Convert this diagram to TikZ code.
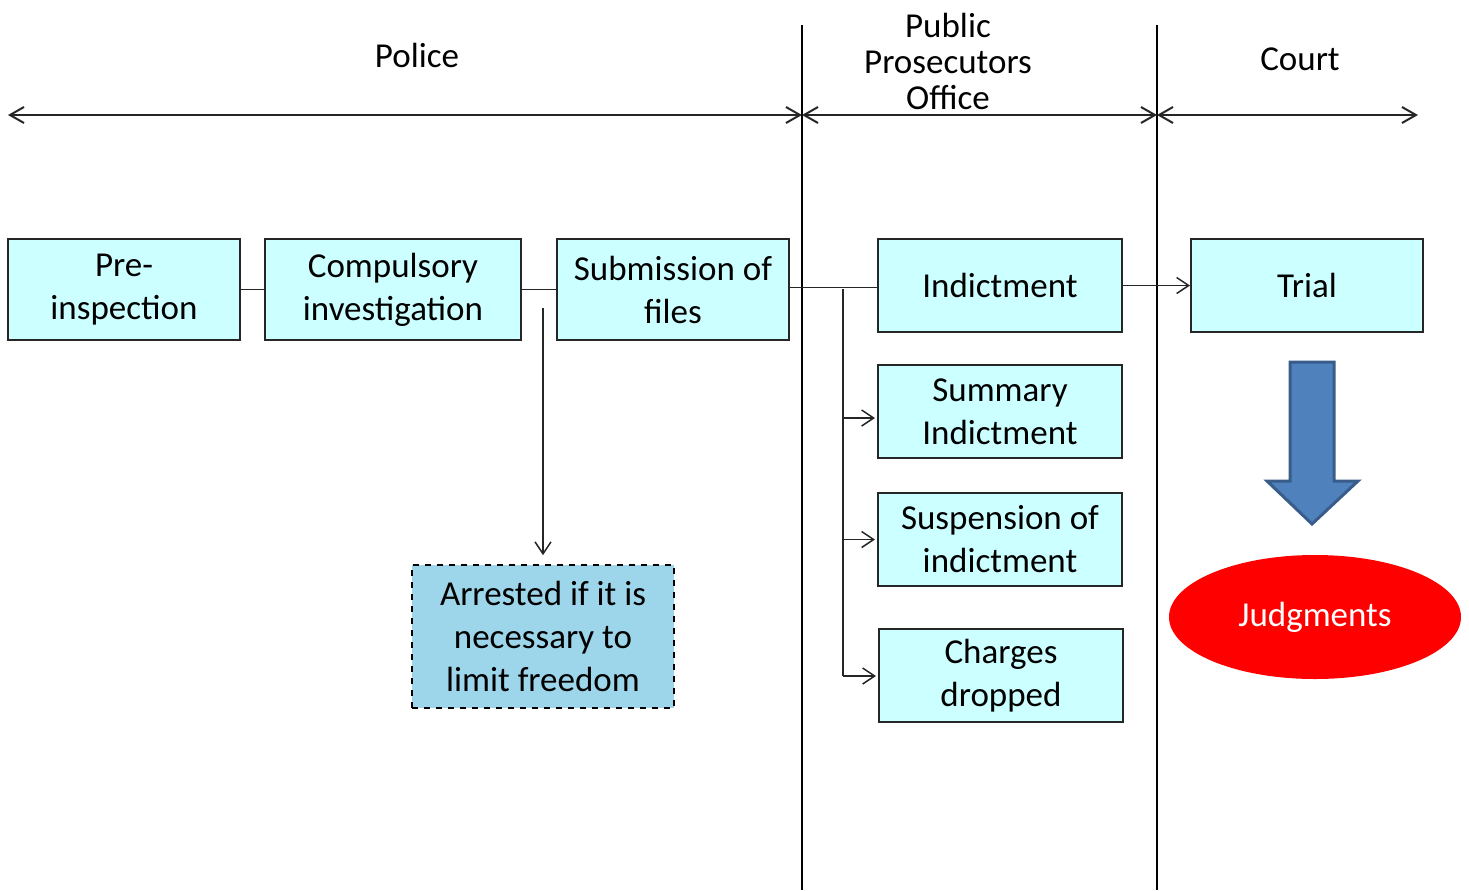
\documentclass[tikz,border=0pt]{standalone}
\usepackage{fontspec}
\setmainfont{Carlito}
\usetikzlibrary{arrows.meta,shapes.geometric}
\definecolor{boxfill}{HTML}{CCFFFF}
\definecolor{arrestfill}{HTML}{9DD5EA}
\definecolor{edge}{HTML}{262626}
\definecolor{blockfill}{HTML}{4F81BD}
\definecolor{blockedge}{HTML}{385D8A}
\begin{document}
\begin{tikzpicture}[x=0.5pt,y=-0.5pt,
  txt/.style={font=\fontsize{17.5}{21.5}\selectfont, align=center},
  box/.style={txt, draw=edge, line width=1pt, fill=boxfill, inner sep=0pt},
  wide/.style={minimum width=116pt, minimum height=50.5pt},
  mid/.style={minimum width=122pt, minimum height=46.5pt},
  arrestbox/.style={txt, draw=black, dashed, line width=0.8pt, fill=arrestfill, inner sep=0pt,
    minimum width=131pt, minimum height=71.5pt},
  link/.style={draw=edge, line width=0.75pt},
  linkarrow/.style={link, -{Straight Barb[length=6pt,width=8pt]}},
  span/.style={draw=edge, line width=1pt, {Straight Barb[length=7pt,width=8pt]}-{Straight Barb[length=7pt,width=8pt]}},
  divider/.style={draw=black, line width=1pt}
]
\useasboundingbox (0,0) rectangle (1469,890);

% column dividers
\coordinate (d1top) at (802,25);  \coordinate (d1bot) at (802,890);
\coordinate (d2top) at (1157,25); \coordinate (d2bot) at (1157,890);
\draw[divider] (d1top) -- (d1bot);
\draw[divider] (d2top) -- (d2bot);

% responsibility spans
\coordinate (s0) at (8,115);
\coordinate (s1) at (802,115);
\coordinate (s2) at (1157,115);
\coordinate (s3) at (1418,115);
\draw[span] (s0) -- (s1);
\draw[span] (s1) -- (s2);
\draw[span] (s2) -- (s3);

\node[txt] (police) at (417,55) {Police};
\node[txt, font=\fontsize{17.5}{18}\selectfont] (ppo) at (948,61) {Public\\Prosecutors\\Office};
\node[txt] (court) at (1300,59) {Court};

% police stage
\node[box, wide, minimum width=116pt] (pre) at (124,289.5) {Pre-\\inspection};
\node[box, wide, minimum width=128pt] (comp) at (393,289.5) {Compulsory\\investigation};
\node[box, wide] (sub) at (673,289.5) {Submission of\\files};
\node[arrestbox] (arrest) at (543,636.5) {Arrested if it is\\necessary to\\limit freedom};

% prosecutor decisions
\node[box, mid] (ind) at (1000,285.5) {Indictment};
\node[box, mid] (summ) at (1000,411.5) {Summary\\Indictment};
\node[box, mid] (susp) at (1000,539.5) {Suspension of\\indictment};
\node[box, mid] (drop) at (1001,675.5) {Charges\\dropped};

% court
\node[box, mid, minimum width=116pt] (trial) at (1307,285.5) {Trial};
\draw[fill=blockfill, draw=blockedge, line width=1.5pt, line join=miter]
  (1290,362) -- (1334,362) -- (1334,481) -- (1358,481) -- (1312,524)
  -- (1267,481) -- (1290,481) -- cycle;
\node[ellipse, fill=red, minimum width=146pt, minimum height=62pt, inner sep=0pt,
  txt, text=white] (judg) at (1315,617) {Judgments};

% connectors
\draw[link] (pre.east) -- (comp.west);
\draw[link] (comp.east) -- (sub.west);
\coordinate (subout) at ([yshift=1pt]sub.east);
\draw[link] (subout) -- (ind.west |- subout);
\draw[linkarrow] (ind.east) -- (trial.west);

\coordinate (ctop) at (543,308);
\draw[linkarrow] (ctop) -- ([yshift=4.5pt]arrest.north);

\coordinate (btop) at (843,289);
\coordinate (bsumm) at (843,418);
\coordinate (bbot) at (843,676);
\draw[link] (btop) -- (bbot);
\draw[linkarrow] (bsumm) -- ([xshift=-1pt]summ.west |- bsumm);
\draw[linkarrow] (btop |- susp.west) -- ([xshift=-1pt]susp.west);
\draw[linkarrow] (bbot) -- ([xshift=-1pt]drop.west |- bbot);
\end{tikzpicture}
\end{document}
